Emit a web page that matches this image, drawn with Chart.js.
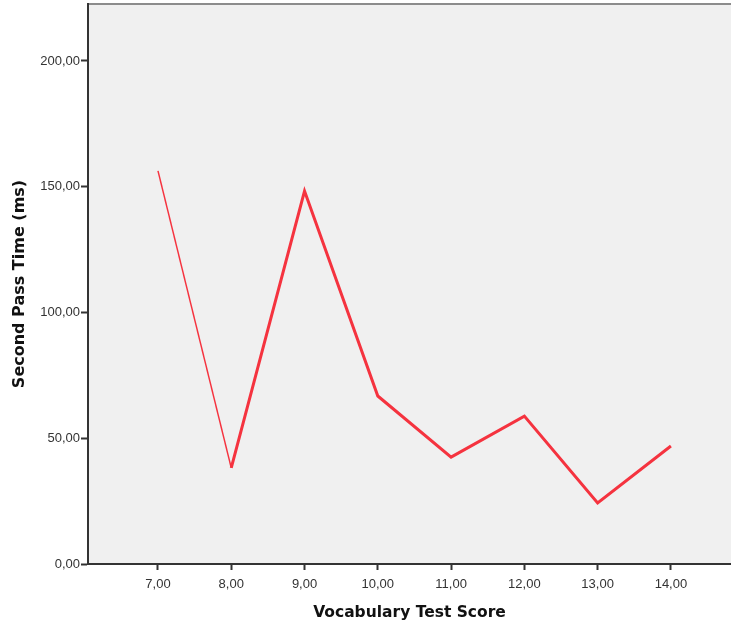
<!DOCTYPE html>
<html>
<head>
<meta charset="utf-8">
<script src="https://cdn.jsdelivr.net/npm/chart.js@4/dist/chart.umd.min.js"></script>
<style>
html,body{margin:0;padding:0;background:#ffffff;}
#wrap{width:731px;height:622px;position:relative;}
</style>
</head>
<body>
<div id="wrap"><canvas id="c" width="731" height="622"></canvas></div>
<script>
const scores = [7, 8, 9, 10, 11, 12, 13, 14];
const secondPassTime = [156.3, 38.2, 148.3, 66.8, 42.5, 58.8, 24.3, 46.9];
const yTicks = [0, 50, 100, 150, 200];
const xTicks = [7, 8, 9, 10, 11, 12, 13, 14];

const fmt = v => v.toFixed(2).replace('.', ',');

const bgPlugin = {
  id: 'bg',
  beforeDraw(chart) {
    const {ctx, chartArea: a} = chart;
    ctx.save();
    ctx.fillStyle = '#f0f0f0';
    ctx.fillRect(a.left, a.top, a.right - a.left, a.bottom - a.top);
    ctx.strokeStyle = '#8c8c8c';
    ctx.lineWidth = 2;
    ctx.beginPath();
    ctx.moveTo(a.left, a.top);
    ctx.lineTo(a.right, a.top);
    ctx.stroke();
    ctx.restore();
  }
};

new Chart(document.getElementById('c'), {
  type: 'line',
  data: {
    datasets: [{
      data: scores.map((s, i) => ({x: s, y: secondPassTime[i]})),
      borderColor: '#f5333f',
      borderWidth: 3,
      pointRadius: 0,
      tension: 0,
      segment: {
        borderWidth: ctx => ctx.p0DataIndex === 0 ? 1.5 : 3
      }
    }]
  },
  options: {
    responsive: false,
    animation: false,
    layout: {padding: {top: 4, right: 0, left: 0, bottom: 0}},
    plugins: {legend: {display: false}, tooltip: {enabled: false}},
    scales: {
      x: {
        type: 'linear',
        min: 6.045,
        max: 14.82,
        afterBuildTicks: s => { s.ticks = xTicks.map(v => ({value: v})); },
        afterFit: s => { s.height = 58; s.paddingLeft = 0; s.paddingRight = 0; },
        grid: {display: true, drawOnChartArea: false, drawTicks: true, tickLength: 6, tickColor: '#333333', tickWidth: 2},
        border: {display: true, color: '#333333', width: 2},
        ticks: {
          callback: v => fmt(v),
          color: '#333333',
          font: {family: 'Liberation Sans, Arial, sans-serif', size: 13},
          padding: 7,
          maxRotation: 0
        },
        title: {
          display: true,
          text: 'Vocabulary Test Score',
          color: '#111111',
          font: {family: 'DejaVu Sans, Verdana, sans-serif', size: 15.5, weight: 'bold'},
          padding: {top: 0, bottom: 0}
        }
      },
      y: {
        type: 'linear',
        min: 0,
        max: 222.66,
        afterBuildTicks: s => { s.ticks = yTicks.map(v => ({value: v})); },
        afterFit: s => { s.width = 88; s.paddingTop = 0; s.paddingBottom = 0; },
        grid: {display: true, drawOnChartArea: false, drawTicks: true, tickLength: 7, tickColor: '#333333', tickWidth: 2},
        border: {display: true, color: '#333333', width: 2},
        ticks: {
          callback: v => fmt(v),
          color: '#333333',
          font: {family: 'Liberation Sans, Arial, sans-serif', size: 13},
          padding: 1
        },
        title: {
          display: true,
          text: 'Second Pass Time (ms)',
          color: '#111111',
          font: {family: 'DejaVu Sans, Verdana, sans-serif', size: 16, weight: 'bold'},
          padding: {top: 10, bottom: 0}
        }
      }
    }
  },
  plugins: [bgPlugin]
});
</script>
</body>
</html>
